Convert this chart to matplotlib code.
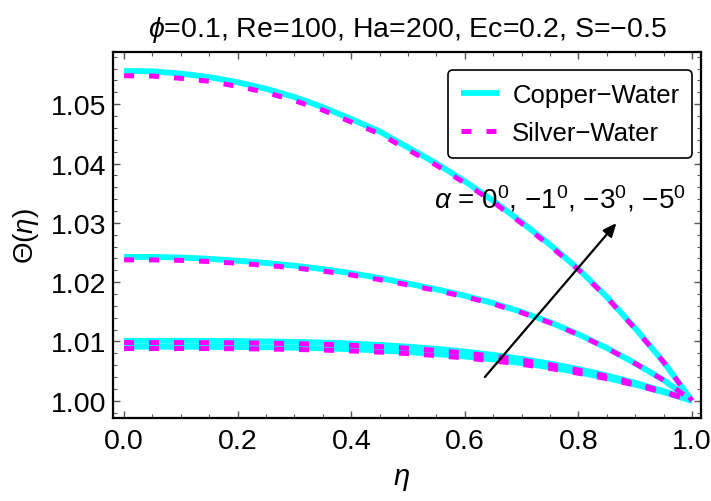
import numpy as np
import matplotlib
matplotlib.use("Agg")
import matplotlib.pyplot as plt
from matplotlib.ticker import MultipleLocator, FormatStrFormatter

plt.rcParams["font.family"] = ["Liberation Sans", "DejaVu Sans"]
plt.rcParams["mathtext.fontset"] = "custom"
plt.rcParams["mathtext.rm"] = "Liberation Sans"
plt.rcParams["mathtext.it"] = "Liberation Sans:italic"

# ---- temperature profiles Theta(eta), one pair per inclination angle ----
eta = np.array([0.00, 0.05, 0.10, 0.15, 0.20, 0.25, 0.30, 0.35, 0.40, 0.45, 0.50,
                0.55, 0.60, 0.65, 0.70, 0.75, 0.80, 0.85, 0.90, 0.95, 1.00])

# alpha = 0 deg
cu_a0 = [1.00910, 1.00910, 1.00910, 1.00908, 1.00906, 1.00901, 1.00894, 1.00883,
         1.00868, 1.00847, 1.00821, 1.00787, 1.00746, 1.00695, 1.00635, 1.00563,
         1.00479, 1.00382, 1.00271, 1.00144, 1.00000]
ag_a0 = [1.00880, 1.00880, 1.00880, 1.00879, 1.00876, 1.00872, 1.00864, 1.00854,
         1.00839, 1.00819, 1.00794, 1.00761, 1.00721, 1.00672, 1.00614, 1.00544,
         1.00463, 1.00370, 1.00262, 1.00139, 1.00000]
# alpha = -1 deg
cu_a1 = [1.01010, 1.01010, 1.01010, 1.01008, 1.01005, 1.01000, 1.00992, 1.00980,
         1.00963, 1.00940, 1.00911, 1.00874, 1.00828, 1.00772, 1.00704, 1.00625,
         1.00532, 1.00424, 1.00300, 1.00160, 1.00000]
ag_a1 = [1.00980, 1.00980, 1.00980, 1.00978, 1.00975, 1.00971, 1.00963, 1.00951,
         1.00934, 1.00912, 1.00884, 1.00848, 1.00803, 1.00749, 1.00683, 1.00606,
         1.00516, 1.00412, 1.00291, 1.00155, 1.00000]
# alpha = -3 deg
cu_a3 = [1.02425, 1.02424, 1.02415, 1.02393, 1.02360, 1.02323, 1.02277, 1.02220,
         1.02150, 1.02069, 1.01975, 1.01878, 1.01770, 1.01645, 1.01496, 1.01322,
         1.01120, 1.00888, 1.00629, 1.00347, 1.00000]
ag_a3 = [1.02375, 1.02374, 1.02367, 1.02347, 1.02317, 1.02283, 1.02240, 1.02186,
         1.02120, 1.02042, 1.01952, 1.01858, 1.01753, 1.01631, 1.01485, 1.01314,
         1.01114, 1.00884, 1.00627, 1.00346, 1.00000]
# alpha = -5 deg
cu_a5 = [1.05560, 1.05555, 1.05516, 1.05457, 1.05370, 1.05260, 1.05120, 1.04950,
         1.04750, 1.04540, 1.04270, 1.04000, 1.03700, 1.03370, 1.03010, 1.02630,
         1.02220, 1.01750, 1.01220, 1.00650, 1.00000]
ag_a5 = [1.05480, 1.05475, 1.05436, 1.05387, 1.05300, 1.05200, 1.05060, 1.04900,
         1.04700, 1.04500, 1.04230, 1.03970, 1.03670, 1.03350, 1.02990, 1.02610,
         1.02210, 1.01740, 1.01210, 1.00650, 1.00000]

copper = [cu_a0, cu_a1, cu_a3, cu_a5]
silver = [ag_a0, ag_a1, ag_a3, ag_a5]

title = r"$\phi$=0.1, Re=100, Ha=200, Ec=0.2, S=−0.5"
alpha_label = r"$\alpha$ = $0^{0}$, $-1^{0}$, $-3^{0}$, $-5^{0}$"

fig = plt.figure(figsize=(7.11, 5.02), dpi=100)
ax = fig.add_axes([0.159, 0.165, 0.827, 0.729])

for k, cu in enumerate(copper):
    ax.plot(eta, cu, color="#00FFFF", lw=4.2, solid_capstyle="butt",
            label="Copper−Water" if k == 0 else None, zorder=2)
for k, ag in enumerate(silver):
    ax.plot(eta, ag, color="#FF00FF", lw=3.6, ls=(0, (2.0, 3.0)),
            dash_capstyle="butt",
            label="Silver−Water" if k == 0 else None, zorder=3)

ax.annotate("", xy=(0.870, 1.0303), xytext=(0.632, 1.00363),
            arrowprops=dict(arrowstyle="-|>,head_length=0.8,head_width=0.35",
                            color="black", lw=1.6), zorder=5)
ax.text(0.545, 1.0325, alpha_label, fontsize=20, ha="left", va="baseline")

ax.set_xlim(-0.0194, 1.0158)
ax.set_ylim(0.99705, 1.05877)
ax.xaxis.set_major_locator(MultipleLocator(0.2))
ax.xaxis.set_minor_locator(MultipleLocator(0.05))
ax.yaxis.set_major_locator(MultipleLocator(0.01))
ax.yaxis.set_minor_locator(MultipleLocator(0.002))
ax.xaxis.set_major_formatter(FormatStrFormatter("%.1f"))
ax.yaxis.set_major_formatter(FormatStrFormatter("%.2f"))

ax.tick_params(which="both", direction="in", top=True, right=True,
               color="#555555", labelsize=20.5)
ax.tick_params(which="major", length=5, width=1.0)
ax.tick_params(which="minor", length=3, width=0.8)
ax.tick_params(axis="x", pad=7)
ax.tick_params(axis="y", pad=5)
for sp in ax.spines.values():
    sp.set_linewidth(1.6)

ax.set_xlabel(r"$\eta$", fontsize=21)
ax.xaxis.set_label_coords(0.49, -0.125)
ax.set_ylabel(r"$\Theta(\eta)$", fontsize=20)
ax.yaxis.set_label_coords(-0.122, 0.5)
ax.set_title(title, fontsize=20.5, pad=12)

leg = ax.legend(loc="upper right", bbox_to_anchor=(0.985, 0.951),
                borderaxespad=0, fontsize=18.5, frameon=True, fancybox=True,
                edgecolor="black", handlelength=1.5, handletextpad=0.5,
                labelspacing=0.55, borderpad=0.5)
leg.get_frame().set_linewidth(1.2)
leg.get_frame().set_alpha(1)

fig.savefig("out.png", dpi=100)
